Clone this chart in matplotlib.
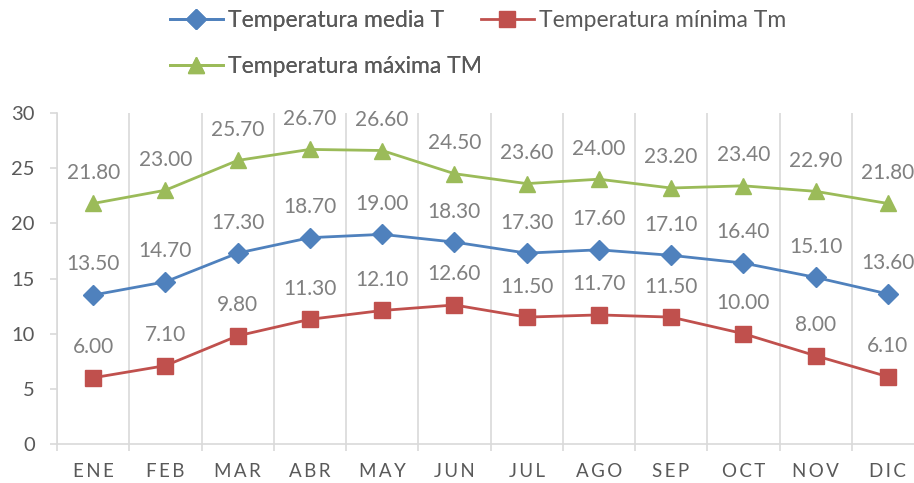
import matplotlib
matplotlib.use("Agg")
import matplotlib.pyplot as plt
from matplotlib.ticker import MultipleLocator
import numpy as np

plt.rcParams['font.family'] = ['Lato', 'DejaVu Sans']

meses = ['ENE', 'FEB', 'MAR', 'ABR', 'MAY', 'JUN', 'JUL', 'AGO', 'SEP', 'OCT', 'NOV', 'DIC']
t_media = [13.5, 14.7, 17.3, 18.7, 19.0, 18.3, 17.3, 17.6, 17.1, 16.4, 15.1, 13.6]
t_minima = [6.0, 7.1, 9.8, 11.3, 12.1, 12.6, 11.5, 11.7, 11.5, 10.0, 8.0, 6.1]
t_maxima = [21.8, 23.0, 25.7, 26.7, 26.6, 24.5, 23.6, 24.0, 23.2, 23.4, 22.9, 21.8]

series = [
    ('Temperatura media T', t_media, '#4F81BD', 'D', 10),
    ('Temperatura mínima Tm', t_minima, '#C0504D', 's', 12),
    ('Temperatura máxima TM', t_maxima, '#9BBB59', '^', 12),
]

fig = plt.figure(figsize=(9.14, 4.83), dpi=100)
ax = fig.add_axes([57 / 914, 39 / 483, 867 / 914, 331 / 483])

x = np.arange(len(meses))
handles = {}
for label, vals, color, marker, ms in series:
    h, = ax.plot(x, vals, color=color, linewidth=2, marker=marker,
                 markersize=ms, label=label, zorder=3)
    handles[label] = h
    for xi, v in zip(x, vals):
        ax.annotate(f'{v:.2f}', xy=(xi, v), xytext=(0, 22), textcoords='offset points',
                    ha='center', va='center', fontsize=15, color='#808080')

ax.set_xlim(-0.5, len(meses) - 0.5)
ax.set_ylim(0, 30)
ax.yaxis.set_major_locator(MultipleLocator(5))
ax.set_xticks(x)
ax.set_xticklabels(['\u2009'.join(m) for m in meses])
ax.set_xticks(np.arange(-0.5, len(meses), 1), minor=True)
ax.tick_params(axis='x', which='major', length=0, pad=14, labelsize=13.5, labelcolor='#595959')
ax.tick_params(axis='x', which='minor', length=5, color='#D9D9D9', width=1.2)
ax.tick_params(axis='y', length=5, color='#D9D9D9', width=1.2, labelsize=14.5,
               labelcolor='#595959', pad=11)
ax.grid(axis='x', which='minor', color='#D9D9D9', linewidth=1.2)
ax.grid(axis='x', which='major', visible=False)
for s in ['top', 'right']:
    ax.spines[s].set_visible(False)
for s in ['left', 'bottom']:
    ax.spines[s].set_color('#D9D9D9')
    ax.spines[s].set_linewidth(1.2)

# legend: left column media / maxima, right column minima
fs_leg = 16.5
pad_px = 0.4 * fs_leg * 100 / 72
leg_kw = dict(loc='upper left', borderaxespad=0, frameon=False, fontsize=fs_leg,
              handlelength=2.3, handletextpad=0.25, labelspacing=1.1,
              labelcolor='#595959')
leg1 = fig.legend(handles=[handles['Temperatura media T'], handles['Temperatura máxima TM']],
                  bbox_to_anchor=((170 - pad_px) / 914, 0.998), **leg_kw)
fig.add_artist(leg1)
fig.legend(handles=[handles['Temperatura mínima Tm']],
           bbox_to_anchor=((481 - pad_px) / 914, 0.998), **leg_kw)

fig.savefig('out.png', dpi=100)
